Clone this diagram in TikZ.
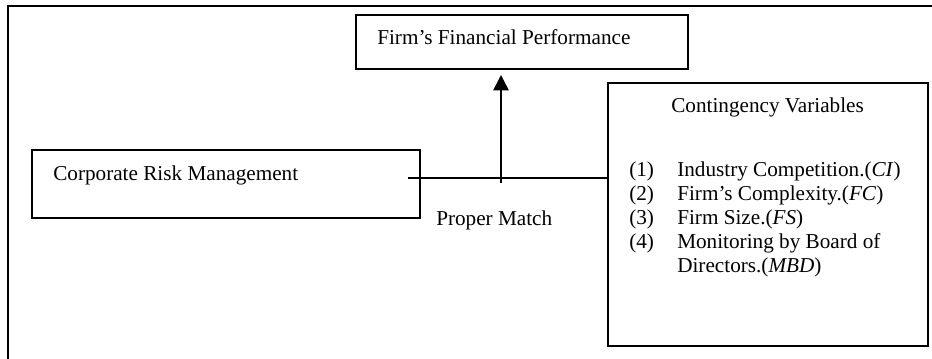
\documentclass[tikz,border=0pt]{standalone}
\usepackage{fontspec}
\setmainfont{Liberation Serif}
\usetikzlibrary{arrows.meta}
\begin{document}
\begin{tikzpicture}[x=0.75pt,y=-0.75pt,
  box/.style={draw,line width=1.1pt,rectangle,inner sep=0pt},
  lbl/.style={anchor=base west,inner sep=0pt,font=\fontsize{15.9}{18}\selectfont},
  conn/.style={line width=1.1pt}]
\useasboundingbox (0,0) rectangle (932,359);
% outer frame (only top and left visible)
\draw[line width=1.5pt] (8,359) -- (8,6) -- (932,6);
% boxes
\node[box,minimum width=332*0.75pt,minimum height=54*0.75pt] (ffp) at (522,42) {};
\node[box,minimum width=388*0.75pt,minimum height=68*0.75pt] (crm) at (226,184) {};
\node[box,minimum width=320*0.75pt,minimum height=263*0.75pt] (cv) at (768,214.5) {};
% texts
\node[lbl] (tffp) at (377,45) {Firm’s Financial Performance};
\node[lbl] (tcrm) at (53,181) {Corporate Risk Management};
\node[lbl] (tpm) at (436,226) {Proper Match};
\node[lbl] (tcv) at (671,113) {Contingency Variables};
\node[lbl] (n1) at (629,177) {(1)};
\node[lbl] (i1) at (677,177) {Industry Competition.(\textit{CI})};
\node[lbl] (n2) at (629,201) {(2)};
\node[lbl] (i2) at (677,201) {Firm’s Complexity.(\textit{FC})};
\node[lbl] (n3) at (629,225) {(3)};
\node[lbl] (i3) at (677,225) {Firm Size.(\textit{FS})};
\node[lbl] (n4) at (629,249) {(4)};
\node[lbl] (i4) at (677,249) {Monitoring by Board of};
\node[lbl] (i4b) at (677,273) {Directors.(\textit{MBD})};
% connectors
\coordinate (hstart) at (408,178);
\coordinate (vbot) at (501,183);
\coordinate (vtip) at (501,75);
\draw[conn] (hstart) -- (hstart -| cv.west);
\draw[conn,-{Triangle[width=11.5pt,length=11.5pt]}] (vbot) -- (vtip);
\end{tikzpicture}
\end{document}
